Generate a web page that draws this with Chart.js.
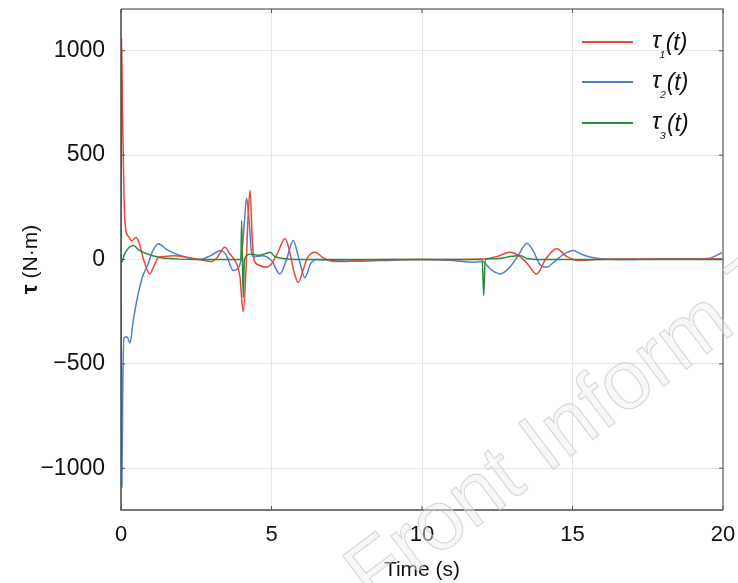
<!DOCTYPE html>
<html>
<head>
<meta charset="utf-8">
<script src="https://cdn.jsdelivr.net/npm/chart.js@4/dist/chart.umd.min.js"></script>
<style>
  html, body { margin: 0; padding: 0; background: #ffffff; }
  #wrap { position: relative; width: 738px; height: 583px; }
</style>
</head>
<body>
<div id="wrap"><canvas id="c" width="738" height="583"></canvas></div>
<script>
// ---------- data ----------
const seriesNames = ['τ₁(t)', 'τ₂(t)', 'τ₃(t)'];
const xTicks = [0, 5, 10, 15, 20];
const yTicks = [-1000, -500, 0, 500, 1000];
const xAxisTitle = 'Time (s)';
const yAxisTitleSymbol = 'τ';
const yAxisTitleUnit = ' (N·m)';
const watermark = 'Front Inform Technol';

const time1 = [0, 0.02, 0.05, 0.1, 0.15, 0.25, 0.35, 0.5, 0.6, 0.75, 0.95, 1.1, 1.25, 1.5, 1.8, 2.2, 2.6, 3.0, 3.2, 3.45, 3.6, 3.84, 3.95, 4.06, 4.15, 4.22, 4.29, 4.36, 4.42, 4.55, 4.84, 5.0, 5.2, 5.45, 5.6, 5.75, 5.89, 6.05, 6.2, 6.45, 6.7, 7.0, 7.5, 8, 9, 10, 11, 12, 12.5, 12.92, 13.2, 13.5, 13.81, 14.1, 14.48, 14.8, 15.2, 15.8, 17, 20];
const tau1  = [0, 1060, 700, 300, 150, 110, 90, 105, 80, 0, -68, -30, 10, 15, 18, 10, 0, -10, 10, 59, 30, -20, -80, -250, -60, 200, 330, 100, 0, -25, -37, -20, 30, 100, 40, -60, -110, -50, 10, 35, 10, -8, -10, -3, 0, 0, 0, 2, 15, 35, 20, -20, -70, 0, 51, 15, -5, 0, 2, 3];

const time2 = [0, 0.03, 0.06, 0.1, 0.2, 0.3, 0.4, 0.52, 0.7, 0.9, 1.05, 1.24, 1.5, 1.8, 2.2, 2.6, 3.0, 3.3, 3.5, 3.73, 3.9, 4.0, 4.1, 4.17, 4.25, 4.33, 4.4, 4.7, 5.0, 5.28, 5.5, 5.72, 5.9, 6.11, 6.3, 6.5, 7, 8, 9, 10, 11, 11.7, 12.0, 12.3, 12.6, 12.9, 13.2, 13.48, 13.7, 13.9, 14.14, 14.4, 14.7, 15.03, 15.3, 15.7, 16.5, 18, 19.5, 20];
const tau2  = [0, -1090, -600, -375, -370, -400, -300, -200, -90, -21, 40, 75, 50, 28, 10, 0, 20, 43, 20, -53, -40, 10, 180, 295, 200, 40, 12, 18, -5, -69, 0, 91, 10, -87, -20, 0, -5, -8, -3, 0, -5, -13, -10, -50, -69, -40, 20, 78, 40, -20, -37, -10, 25, 43, 25, 8, 0, 3, 5, 35];

const time3 = [0, 0.02, 0.1, 0.25, 0.41, 0.6, 0.9, 1.3, 1.8, 2.5, 3.5, 3.98, 4.01, 4.06, 4.1, 4.3, 4.6, 4.8, 4.95, 5.1, 5.4, 6, 12.0, 12.05, 12.1, 12.5, 13.0, 13.25, 13.5, 14, 20];
const tau3  = [0, -13, 20, 55, 67, 45, 25, 10, 3, 0, 0, 0, 187, -181, 0, 25, 20, 28, 35, 15, 5, 0, 0, -173, 0, 5, 15, 19, 5, 0, 0];

// ---------- styling ----------
const colors = ['#e8483a', '#4f80cf', '#2b8a3e'];
const FONT = "'Liberation Sans', Arial, sans-serif";

function pts(t, v) { return t.map((x, i) => ({ x: x, y: v[i] })); }

const frameAndTicks = {
  id: 'frameAndTicks',
  afterDatasetsDraw(chart) {
    const { ctx, chartArea: a, scales } = chart;
    ctx.save();
    ctx.strokeStyle = '#9a9a9a';
    ctx.lineWidth = 2;
    ctx.beginPath();
    ctx.moveTo(a.left, a.top); ctx.lineTo(a.right, a.top); ctx.lineTo(a.right, a.bottom);
    ctx.stroke();
    ctx.strokeStyle = '#4a4a4a';
    ctx.lineWidth = 1.5;
    ctx.beginPath();
    ctx.moveTo(a.left, a.top); ctx.lineTo(a.left, a.bottom); ctx.lineTo(a.right, a.bottom);
    ctx.stroke();
    ctx.strokeStyle = '#555';
    ctx.lineWidth = 1;
    ctx.beginPath();
    yTicks.forEach(v => {
      const y = scales.y.getPixelForValue(v);
      ctx.moveTo(a.left, y); ctx.lineTo(a.left + 4, y);
      ctx.moveTo(a.right, y); ctx.lineTo(a.right - 4, y);
    });
    xTicks.forEach(v => {
      const x = scales.x.getPixelForValue(v);
      ctx.moveTo(x, a.bottom); ctx.lineTo(x, a.bottom - 4);
      ctx.moveTo(x, a.top); ctx.lineTo(x, a.top + 4);
    });
    ctx.stroke();
    ctx.restore();
  }
};

const customLegend = {
  id: 'customLegend',
  afterDraw(chart) {
    const { ctx } = chart;
    ctx.save();
    const rows = [42, 82, 123];
    seriesNames.forEach((name, i) => {
      const y = rows[i];
      ctx.strokeStyle = colors[i];
      ctx.lineWidth = 1.8;
      ctx.beginPath(); ctx.moveTo(582, y); ctx.lineTo(633, y); ctx.stroke();
      const base = name.charAt(0);
      const sub = name.charAt(1);
      const rest = name.slice(2);
      ctx.fillStyle = '#111';
      ctx.textBaseline = 'alphabetic';
      ctx.font = 'italic 24px ' + FONT;
      let x = 652;
      ctx.fillText(base, x, y + 6);
      x += ctx.measureText(base).width - 1;
      ctx.font = 'italic 15px ' + FONT;
      ctx.fillText(sub, x, y + 14);
      x += ctx.measureText(sub).width + 1;
      ctx.font = 'italic 23px ' + FONT;
      ctx.fillText(rest, x, y + 8);
    });
    ctx.restore();
  }
};

const yTitle = {
  id: 'yTitle',
  afterDraw(chart) {
    const { ctx, chartArea: a } = chart;
    ctx.save();
    ctx.translate(37, (a.top + a.bottom) / 2);
    ctx.rotate(-Math.PI / 2);
    ctx.fillStyle = '#111';
    ctx.textBaseline = 'alphabetic';
    ctx.font = 'bold 22px ' + FONT;
    const w1 = ctx.measureText(yAxisTitleSymbol).width;
    ctx.font = '21px ' + FONT;
    const w2 = ctx.measureText(yAxisTitleUnit).width;
    let x = -(w1 + w2) / 2;
    ctx.font = 'bold 22px ' + FONT;
    ctx.fillText(yAxisTitleSymbol, x, 0);
    ctx.font = '21px ' + FONT;
    ctx.fillText(yAxisTitleUnit, x + w1, 0);
    ctx.restore();
  }
};

const watermarkPlugin = {
  id: 'watermarkPlugin',
  afterDraw(chart) {
    const { ctx } = chart;
    ctx.save();
    ctx.translate(372, 606);
    ctx.rotate(-37 * Math.PI / 180);
    ctx.font = '84px ' + FONT;
    ctx.fillStyle = 'rgba(238,238,238,0.45)';
    ctx.strokeStyle = 'rgba(200,200,200,0.75)';
    ctx.lineWidth = 1;
    ctx.fillText(watermark, 0, 0);
    ctx.strokeText(watermark, 0, 0);
    ctx.restore();
  }
};

new Chart(document.getElementById('c'), {
  type: 'line',
  data: {
    datasets: [
      { label: seriesNames[0], data: pts(time1, tau1), borderColor: colors[0], order: 1 },
      { label: seriesNames[1], data: pts(time2, tau2), borderColor: colors[1], order: 2 },
      { label: seriesNames[2], data: pts(time3, tau3), borderColor: colors[2], order: 0 }
    ]
  },
  options: {
    responsive: false,
    animation: false,
    devicePixelRatio: 1,
    layout: { padding: { top: 9, right: 15, left: 0, bottom: 0 } },
    elements: {
      point: { radius: 0 },
      line: { borderWidth: 1.5, cubicInterpolationMode: 'monotone', fill: false }
    },
    plugins: { legend: { display: false }, tooltip: { enabled: false }, title: { display: false } },
    scales: {
      x: {
        type: 'linear', min: 0, max: 20,
        afterFit: s => { s.height = 73; s.paddingLeft = 0; s.paddingRight = 0; },
        afterBuildTicks: s => { s.ticks = xTicks.map(v => ({ value: v })); },
        grid: { color: '#e6e6e6', drawTicks: false, lineWidth: 1 },
        border: { display: false },
        ticks: { padding: 12, color: '#111', font: { family: FONT, size: 22 } },
        title: { display: true, text: xAxisTitle, color: '#111', font: { family: FONT, size: 21 }, padding: { top: 2, bottom: 0 } }
      },
      y: {
        type: 'linear', min: -1200, max: 1200,
        afterFit: s => { s.width = 121; s.paddingTop = 0; s.paddingBottom = 0; },
        afterBuildTicks: s => { s.ticks = yTicks.map(v => ({ value: v })); },
        grid: { color: '#e6e6e6', drawTicks: false, lineWidth: 1 },
        border: { display: false },
        ticks: {
          padding: 16, color: '#111', font: { family: FONT, size: 23 },
          callback: v => (v < 0 ? '\u2212' + Math.abs(v) : String(v))
        }
      }
    }
  },
  plugins: [frameAndTicks, customLegend, yTitle, watermarkPlugin]
});
</script>
</body>
</html>
